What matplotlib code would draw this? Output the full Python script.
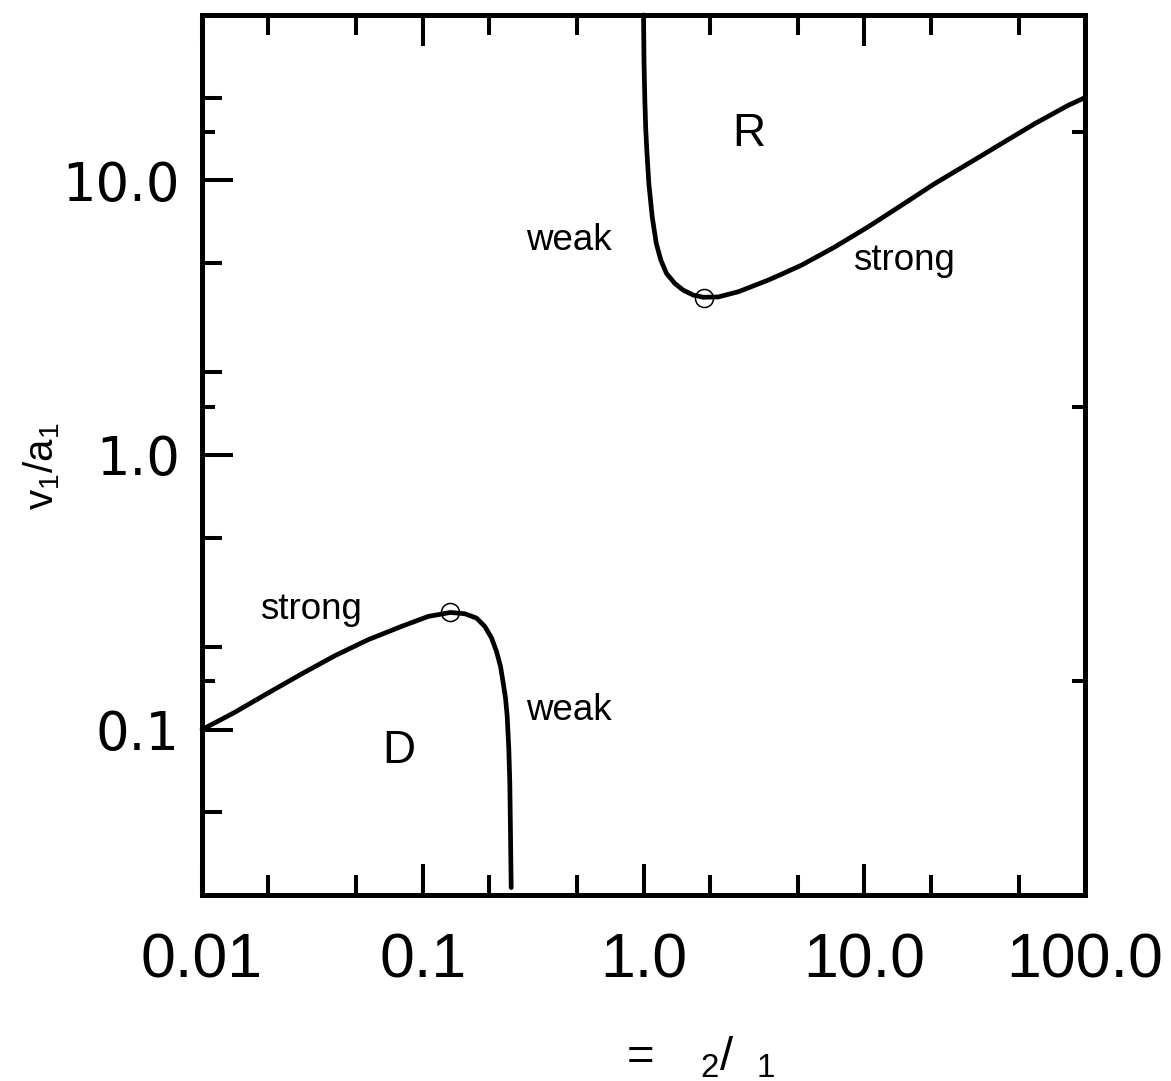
import numpy as np
import matplotlib
matplotlib.use('Agg')
import matplotlib.pyplot as plt
from matplotlib.ticker import FixedLocator, NullFormatter

plt.rcParams['font.family'] = ['Liberation Sans', 'DejaVu Sans']
plt.rcParams['mathtext.default'] = 'regular'

# upper branch (R)
r_x = [1.0, 1.005, 1.0137, 1.024, 1.035, 1.057, 1.095, 1.142, 1.198, 1.271,
       1.386, 1.513, 1.680, 1.864, 2.180, 2.694, 3.67, 4.22, 5.20, 7.36,
       10.42, 14.75, 20.87, 29.58, 41.85, 59.24, 83.9, 100.0]
r_y = [40.0, 27.32, 19.54, 15.20, 12.86, 9.73, 7.36, 5.89, 5.12, 4.58,
       4.21, 3.98, 3.82, 3.75, 3.76, 3.93, 4.33, 4.55, 4.91, 5.72,
       6.77, 8.11, 9.73, 11.50, 13.60, 16.08, 18.74, 20.0]

# lower branch (D)
d_x = [0.01, 0.01408, 0.01995, 0.02823, 0.0400, 0.0566, 0.0801, 0.1058,
       0.1335, 0.1551, 0.1752, 0.1910, 0.2049, 0.2158, 0.2250, 0.2314,
       0.2370, 0.2413, 0.2454, 0.2479, 0.2497, 0.2515]
d_y = [0.1, 0.1156, 0.1360, 0.1594, 0.1858, 0.2125, 0.2375, 0.2582,
       0.2670, 0.2641, 0.2547, 0.2375, 0.2156, 0.1926, 0.1699, 0.1478,
       0.1304, 0.1117, 0.0846, 0.0640, 0.0421, 0.0266]

# tangency points (circles)
pt_x = [0.1335, 1.87]
pt_y = [0.267, 3.74]

xticks = [0.01, 0.1, 1.0, 10.0, 100.0]
xlabels = ['0.01', '0.1', '1.0', '10.0', '100.0']
xminor = [0.02, 0.05, 0.2, 0.5, 2, 5, 20, 50]
yticks = [0.1, 1.0, 10.0]
ylabels = ['0.1', '1.0', '10.0']
yminor = [0.05, 0.2, 0.5, 2, 5, 20]
yshort = [0.15, 1.5, 15]

fig = plt.figure(figsize=(11.71, 10.81), dpi=100)
ax = fig.add_axes([0.1725, 0.1721, 0.7541, 0.8141])

ax.plot(r_x, r_y, color='black', lw=3.4, solid_capstyle='round',
        solid_joinstyle='round', clip_on=False)
ax.plot(d_x, d_y, color='black', lw=3.4, solid_capstyle='round',
        solid_joinstyle='round', clip_on=False)
ax.plot(pt_x, pt_y, 'o', ms=13, mfc='none', mec='black', mew=1.1, clip_on=False)

ax.set_xscale('log')
ax.set_yscale('log')
ax.set_xlim(0.01, 100)
ax.set_ylim(0.025, 40)

ax.xaxis.set_major_locator(FixedLocator(xticks))
ax.set_xticklabels(xlabels)
ax.xaxis.set_minor_locator(FixedLocator(xminor))
ax.xaxis.set_minor_formatter(NullFormatter())
ax.yaxis.set_major_locator(FixedLocator(yticks))
ax.set_yticklabels(ylabels)
ax.yaxis.set_minor_locator(FixedLocator(yminor))
ax.yaxis.set_minor_formatter(NullFormatter())

for s in ax.spines.values():
    s.set_linewidth(3.6)
ax.tick_params(which='both', direction='in', top=True, right=True, width=2.9)
ax.tick_params(which='major', length=22)
ax.tick_params(which='minor', length=14.5)
ax.tick_params(axis='x', which='major', labelsize=45, pad=26)
ax.tick_params(axis='y', which='major', labelsize=38, pad=16,
               labelfontfamily='DejaVu Sans')

# extra short ticks at 0.15, 1.5, 15
ax2 = ax.twinx()
ax2.set_yscale('log')
ax2.set_ylim(ax.get_ylim())
ax2.yaxis.set_major_locator(FixedLocator(yshort))
ax2.yaxis.set_minor_locator(FixedLocator([]))
ax2.tick_params(which='major', direction='in', left=True, right=True,
                labelleft=False, labelright=False, length=9.5, width=2.9)
for s in ax2.spines.values():
    s.set_visible(False)

ax.set_ylabel(r'v$_1$/a$_1$', fontsize=29)
ax.yaxis.set_label_coords(-0.158, 0.487, transform=ax.transAxes)
ax.set_xlabel(r'=$\quad{}_2$/$\enspace{}_1$', fontsize=34)
ax.xaxis.set_label_coords(0.564, -0.159)

ax.text(2.99, 14.8, 'R', fontsize=33, ha='center', va='center')
ax.text(0.0776, 0.0839, 'D', fontsize=33, ha='center', va='center')
ax.text(0.457, 6.05, 'weak', fontsize=26.5, ha='center', va='center')
ax.text(0.457, 0.117, 'weak', fontsize=26.5, ha='center', va='center')
ax.text(15.2, 5.12, 'strong', fontsize=26.5, ha='center', va='center')
ax.text(0.0310, 0.273, 'strong', fontsize=26.5, ha='center', va='center')

fig.savefig('out.png', dpi=100)
